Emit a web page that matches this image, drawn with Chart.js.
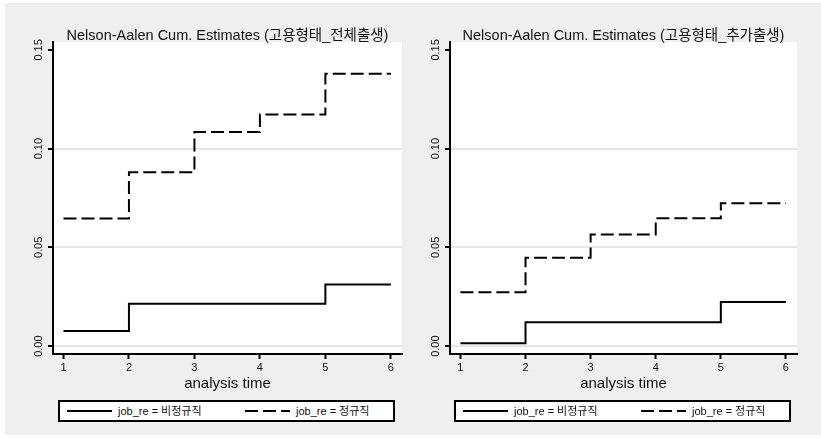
<!DOCTYPE html>
<html>
<head>
<meta charset="utf-8">
<script src="https://cdn.jsdelivr.net/npm/chart.js@4/dist/chart.umd.min.js"></script>
<style>
  html, body { margin: 0; padding: 0; }
  body { width: 821px; height: 438px; position: relative; overflow: hidden; background: #fff;
         font-family: "Liberation Sans", "Noto Sans CJK KR", sans-serif; }
  #bg { position: absolute; left: 5px; top: 3px; width: 816px; height: 432px; background: #efefef; }
  .panel { position: absolute; top: 0; height: 438px; }
  .legend { position: absolute; top: 400px; height: 18px; border: 2px solid #000; background: #fff;
            font-size: 11px; color: #111; }
  .legend .item { position: absolute; top: 0; height: 18px; line-height: 18px; white-space: nowrap; }
  .legend svg { position: absolute; top: 8px; }
</style>
</head>
<body>
<div id="bg"></div>
<div class="panel" style="left:0;width:410px"><canvas id="c1" width="410" height="438"></canvas></div>
<div class="panel" style="left:410px;width:411px"><canvas id="c2" width="411" height="438"></canvas></div>
<div class="legend" id="lg1" style="left:58px;width:333px"></div>
<div class="legend" id="lg2" style="left:454px;width:333px"></div>
<script>
// Nelson-Aalen cumulative hazard by employment type (step values per analysis time)
const times = [1, 2, 3, 4, 5, 6];
const totalNonRegular = [0.0076, 0.0214, 0.0214, 0.0214, 0.0312, 0.0312];
const totalRegular    = [0.0646, 0.0880, 0.1084, 0.1173, 0.1379, 0.1379];
const addNonRegular   = [0.0015, 0.0121, 0.0121, 0.0121, 0.0223, 0.0223];
const addRegular      = [0.0273, 0.0447, 0.0565, 0.0648, 0.0724, 0.0724];

const xTicks = [1, 2, 3, 4, 5, 6];
const yTicks = [0, 0.05, 0.10, 0.15];
const seriesLabels = ['job_re = 비정규직', 'job_re = 정규직'];
const panelTitles = [
  'Nelson-Aalen Cum. Estimates (고용형태_전체출생)',
  'Nelson-Aalen Cum. Estimates (고용형태_추가출생)'
];
const xTitle = 'analysis time';

const FONT = '"Liberation Sans", "Noto Sans CJK KR", sans-serif';
const DASH = [13, 5];

const panelDecor = {
  id: 'panelDecor',
  beforeDraw(chart) {
    const a = chart.chartArea, ctx = chart.ctx;
    ctx.save();
    ctx.fillStyle = '#ffffff';
    ctx.fillRect(a.left, a.top, a.right - a.left, a.bottom - a.top);
    ctx.restore();
  },
  afterDraw(chart, args, opts) {
    const a = chart.chartArea, ctx = chart.ctx;
    const ys = chart.scales.y;
    ctx.save();
    ctx.fillStyle = '#111';
    // panel title
    ctx.font = '14.5px ' + FONT;
    ctx.textAlign = 'center';
    ctx.textBaseline = 'middle';
    ctx.fillText(opts.title, (a.left + a.right) / 2, a.top - 6);
    // x axis title
    ctx.font = '15px ' + FONT;
    ctx.fillText(xTitle, (a.left + a.right) / 2, a.bottom + 30);
    // y tick labels, rotated to read upward
    ctx.font = '11px ' + FONT;
    yTicks.forEach(v => {
      const py = ys.getPixelForValue(v);
      ctx.save();
      ctx.translate(a.left - 14, py);
      ctx.rotate(-Math.PI / 2);
      ctx.fillText(v.toFixed(2), 0, 0);
      ctx.restore();
    });
    ctx.restore();
  }
};

function makePanel(id, title, solid, dashed, yWidth, padRight) {
  const mk = (vals, dash, label) => ({
    label,
    data: times.map((t, i) => ({ x: t, y: vals[i] })),
    stepped: 'before',
    borderColor: '#000',
    borderWidth: 2,
    borderDash: dash,
    pointRadius: 0,
    fill: false
  });
  return new Chart(document.getElementById(id), {
    type: 'line',
    data: { datasets: [mk(solid, [], seriesLabels[0]), mk(dashed, DASH, seriesLabels[1])] },
    options: {
      responsive: false,
      animation: false,
      layout: { padding: { left: 0, top: 42, right: padRight, bottom: 44 } },
      plugins: { legend: { display: false }, tooltip: { enabled: false }, panelDecor: { title } },
      scales: {
        x: {
          type: 'linear', min: 0.84, max: 6.17,
          afterBuildTicks: s => { s.ticks = xTicks.map(v => ({ value: v })); },
          afterFit: s => { s.height = 40; },
          ticks: { color: '#111', font: { size: 11, family: FONT }, padding: 2, maxRotation: 0, autoSkip: false },
          grid: { drawOnChartArea: false, tickLength: 5, tickWidth: 2, tickColor: '#000' },
          border: { color: '#000', width: 2 }
        },
        y: {
          type: 'linear', min: -0.004, max: 0.154,
          afterBuildTicks: s => { s.ticks = yTicks.map(v => ({ value: v })); },
          afterFit: s => { s.width = yWidth; },
          ticks: { display: false },
          grid: {
            color: c => (c.tick && c.tick.value === 0.15) ? 'rgba(0,0,0,0)' : '#e6e6e6',
            lineWidth: 2, tickLength: 5, tickWidth: 2, tickColor: '#000'
          },
          border: { color: '#000', width: 2 }
        }
      }
    },
    plugins: [panelDecor]
  });
}

makePanel('c1', panelTitles[0], totalNonRegular, totalRegular, 53, 8);
makePanel('c2', panelTitles[1], addNonRegular, addRegular, 40, 24);

function buildLegend(id) {
  const box = document.getElementById(id);
  const entries = [
    { dash: '', x0: 7, label: seriesLabels[0] },
    { dash: '13 5', x0: 185, label: seriesLabels[1] }
  ];
  entries.forEach(e => {
    const svg = document.createElementNS('http://www.w3.org/2000/svg', 'svg');
    svg.setAttribute('width', '45'); svg.setAttribute('height', '2');
    svg.style.left = e.x0 + 'px';
    const ln = document.createElementNS('http://www.w3.org/2000/svg', 'line');
    ln.setAttribute('x1', '0'); ln.setAttribute('y1', '1');
    ln.setAttribute('x2', '45'); ln.setAttribute('y2', '1');
    ln.setAttribute('stroke', '#000'); ln.setAttribute('stroke-width', '2');
    if (e.dash) ln.setAttribute('stroke-dasharray', e.dash);
    svg.appendChild(ln);
    box.appendChild(svg);
    const t = document.createElement('div');
    t.className = 'item';
    t.style.left = (e.x0 + 51) + 'px';
    t.textContent = e.label;
    box.appendChild(t);
  });
}
buildLegend('lg1');
buildLegend('lg2');
</script>
</body>
</html>
